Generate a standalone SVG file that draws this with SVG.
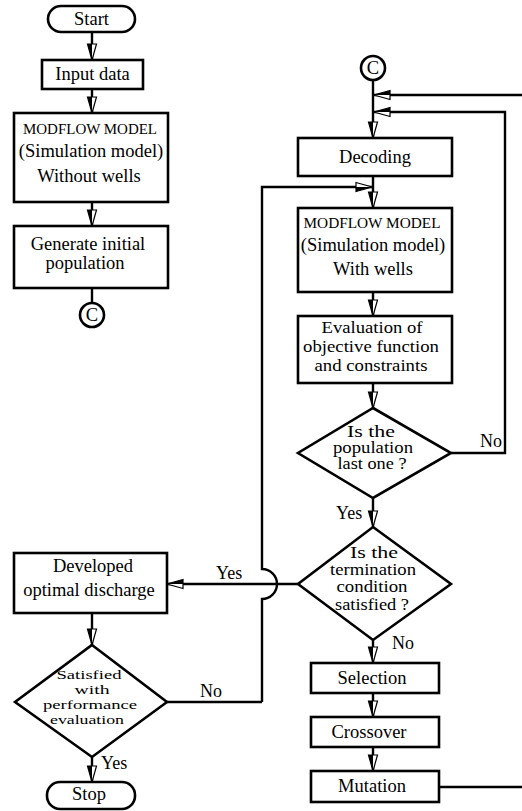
<svg xmlns="http://www.w3.org/2000/svg" width="522" height="811" viewBox="0 0 522 811" font-family="Liberation Serif, DejaVu Serif, serif">
<style>
.box{fill:#fff;stroke:#000;stroke-width:2.6}
.ln{fill:none;stroke:#000;stroke-width:2.4}
text{font-family:'Liberation Serif','DejaVu Serif',serif;fill:#000}
.t{font-size:18.5px;text-anchor:middle}
.s{font-size:14px}
.v{font-size:16.5px;text-anchor:middle}
.d{font-size:16px;text-anchor:middle}
.e{font-size:13.5px;text-anchor:middle}
.l{font-size:18px}
</style>
<defs>
<marker id="ah" markerUnits="userSpaceOnUse" markerWidth="18" markerHeight="12" refX="16" refY="5" orient="auto" viewBox="0 0 18 12" overflow="visible">
<path d="M0,0.5 L16,5 L0,9.5 Z" fill="#fff" stroke="#000" stroke-width="1.2"/>
<path d="M0,5 L16,5 L0,9.5 Z" fill="#000"/>
</marker>
</defs>
<rect width="522" height="811" fill="#fff"/>

<g id="connectors">
<line class="ln" x1="92" y1="32" x2="92" y2="60" marker-end="url(#ah)"/>
<line class="ln" x1="92" y1="89" x2="92" y2="113" marker-end="url(#ah)"/>
<line class="ln" x1="92" y1="202" x2="92" y2="226" marker-end="url(#ah)"/>
<line class="ln" x1="92" y1="288" x2="92" y2="303"/>
<line class="ln" x1="373" y1="80" x2="373" y2="138" marker-end="url(#ah)"/>
<line class="ln" x1="522" y1="95" x2="374" y2="95" marker-end="url(#ah)"/>
<polyline class="ln" points="451,453 505,453 505,112 374,112" marker-end="url(#ah)"/>
<line class="ln" x1="373" y1="176" x2="373" y2="208" marker-end="url(#ah)"/>
<path class="ln" d="M262,702 L262,599 A15,15 0 0 0 262,569 L262,187 L372,187" marker-end="url(#ah)"/>
<line class="ln" x1="373" y1="292" x2="373" y2="316" marker-end="url(#ah)"/>
<line class="ln" x1="373" y1="383" x2="373" y2="408" marker-end="url(#ah)"/>
<line class="ln" x1="373" y1="498" x2="373" y2="527" marker-end="url(#ah)"/>
<line class="ln" x1="298" y1="584" x2="167" y2="584" marker-end="url(#ah)"/>
<line class="ln" x1="373" y1="640" x2="373" y2="663" marker-end="url(#ah)"/>
<line class="ln" x1="373" y1="693" x2="373" y2="717" marker-end="url(#ah)"/>
<line class="ln" x1="373" y1="747" x2="373" y2="771" marker-end="url(#ah)"/>
<line class="ln" x1="439" y1="787" x2="522" y2="787"/>
<line class="ln" x1="92" y1="613" x2="92" y2="645" marker-end="url(#ah)"/>
<polyline class="ln" points="167,702 262,702"/>
<line class="ln" x1="92" y1="757" x2="92" y2="782" marker-end="url(#ah)"/>
<text class="l" x="480" y="447">No</text>
<text class="l" x="336" y="519">Yes</text>
<text class="l" x="216" y="579">Yes</text>
<text class="l" x="392" y="649">No</text>
<text class="l" x="200" y="697">No</text>
<text class="l" x="101" y="769">Yes</text>
</g>

<g id="start">
<rect class="box" x="48" y="6" width="87" height="26" rx="13"/>
<text class="t" x="91.5" y="25">Start</text>
</g>
<g id="input">
<rect class="box" x="42" y="60" width="101" height="29"/>
<text class="t" x="92.5" y="80">Input data</text>
</g>
<g id="modflow1">
<rect class="box" x="14" y="113" width="154" height="89"/>
<text class="t s" x="90" y="134" textLength="134" lengthAdjust="spacingAndGlyphs">MODFLOW MODEL</text>
<text class="t" x="91" y="157">(Simulation model)</text>
<text class="t" x="89" y="182">Without wells</text>
</g>
<g id="generate">
<rect class="box" x="14" y="226" width="154" height="62"/>
<text class="t" x="88" y="250">Generate initial</text>
<text class="t" x="85" y="269">population</text>
</g>
<g id="c1">
<circle cx="92" cy="315" r="12" fill="#fff" stroke="#000" stroke-width="2.6"/>
<text class="t" x="92" y="321">C</text>
</g>
<g id="c2">
<circle cx="373" cy="68" r="12" fill="#fff" stroke="#000" stroke-width="2.6"/>
<text class="t" x="373" y="74">C</text>
</g>
<g id="decoding">
<rect class="box" x="298" y="138" width="154" height="38"/>
<text class="t" x="375" y="163">Decoding</text>
</g>
<g id="modflow2">
<rect class="box" x="298" y="208" width="154" height="84"/>
<text class="t s" x="372" y="228" textLength="137" lengthAdjust="spacingAndGlyphs">MODFLOW MODEL</text>
<text class="t" x="373" y="251">(Simulation model)</text>
<text class="t" x="373" y="275">With wells</text>
</g>
<g id="evaluation">
<rect class="box" x="298" y="316" width="154" height="67"/>
<text class="v" x="372" y="333" textLength="101" lengthAdjust="spacingAndGlyphs">Evaluation of</text>
<text class="v" x="371" y="352" textLength="136" lengthAdjust="spacingAndGlyphs">objective function</text>
<text class="v" x="371" y="371" textLength="113" lengthAdjust="spacingAndGlyphs">and constraints</text>
</g>
<g id="lastpop">
<polygon class="box" points="373,408 451,453 373,498 298,453"/>
<text class="d" x="371" y="437" textLength="48" lengthAdjust="spacingAndGlyphs">Is the</text>
<text class="d" x="373" y="453" textLength="80" lengthAdjust="spacingAndGlyphs">population</text>
<text class="d" x="372" y="469" textLength="69" lengthAdjust="spacingAndGlyphs">last one ?</text>
</g>
<g id="termination">
<polygon class="box" points="373,527 451,584 373,640 298,584"/>
<text class="d" x="374" y="558" textLength="48" lengthAdjust="spacingAndGlyphs">Is the</text>
<text class="d" x="373" y="575" textLength="86" lengthAdjust="spacingAndGlyphs">termination</text>
<text class="d" x="372" y="592" textLength="71" lengthAdjust="spacingAndGlyphs">condition</text>
<text class="d" x="372" y="610" textLength="74" lengthAdjust="spacingAndGlyphs">satisfied ?</text>
</g>
<g id="selection">
<rect class="box" x="311" y="663" width="128" height="30"/>
<text class="t" x="372" y="684">Selection</text>
</g>
<g id="crossover">
<rect class="box" x="311" y="717" width="128" height="30"/>
<text class="t" x="369" y="738">Crossover</text>
</g>
<g id="mutation">
<rect class="box" x="311" y="771" width="128" height="31"/>
<text class="t" x="372" y="792">Mutation</text>
</g>
<g id="developed">
<rect class="box" x="14" y="553" width="153" height="60"/>
<text class="t" x="93" y="572">Developed</text>
<text class="t" x="89" y="596">optimal discharge</text>
</g>
<g id="satisfied">
<polygon class="box" points="92,645 167,702 92,757 15,702"/>
<text class="e" x="89" y="679" textLength="65" lengthAdjust="spacingAndGlyphs">Satisfied</text>
<text class="e" x="92" y="694" textLength="35" lengthAdjust="spacingAndGlyphs">with</text>
<text class="e" x="90" y="709" textLength="94" lengthAdjust="spacingAndGlyphs">performance</text>
<text class="e" x="87" y="724" textLength="74" lengthAdjust="spacingAndGlyphs">evaluation</text>
</g>
<g id="stop">
<rect class="box" x="47" y="782" width="88" height="27" rx="13"/>
<text class="t" x="89" y="800">Stop</text>
</g>
</svg>
